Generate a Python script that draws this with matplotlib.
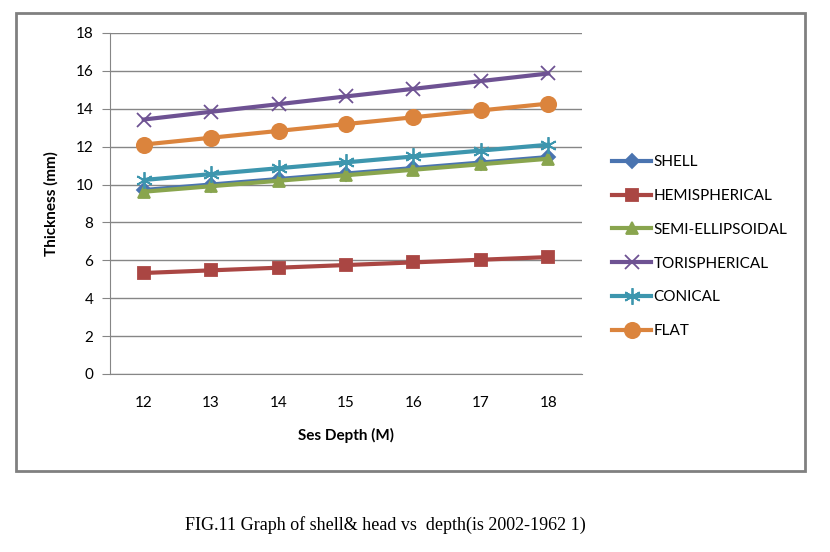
import numpy as np
import matplotlib.pyplot as plt
from matplotlib.patches import Rectangle

plt.rcParams.update({
    "font.family": ["Lato", "DejaVu Sans"],
    "font.size": 10,
})

depth = ["12", "13", "14", "15", "16", "17", "18"]

shell = [9.71, 10.00, 10.29, 10.58, 10.87, 11.16, 11.45]
hemispherical = [5.33, 5.47, 5.61, 5.75, 5.89, 6.03, 6.17]
semi_ellipsoidal = [9.62, 9.91, 10.20, 10.49, 10.78, 11.07, 11.36]
torispherical = [13.43, 13.84, 14.24, 14.65, 15.05, 15.46, 15.86]
conical = [10.24, 10.55, 10.86, 11.17, 11.48, 11.79, 12.10]
flat = [12.11, 12.47, 12.83, 13.19, 13.55, 13.91, 14.27]

series = [
    ("SHELL", shell, "#4A74B0", "D", 7),
    ("HEMISPHERICAL", hemispherical, "#AA4643", "s", 9),
    ("SEMI-ELLIPSOIDAL", semi_ellipsoidal, "#89A54E", "^", 9),
    ("TORISPHERICAL", torispherical, "#6E5293", "x", 10),
    ("CONICAL", conical, "#3D96AE", (6, 2, 0), 12),
    ("FLAT", flat, "#DB843D", "o", 11),
]

fig = plt.figure(figsize=(8.3, 5.52), dpi=100)
ax = fig.add_axes([0.1325, 0.3225, 0.5687, 0.6178])

x = np.arange(len(depth))
for name, vals, col, mk, ms in series:
    ax.plot(x, vals, color=col, lw=3, marker=mk, markersize=ms,
            markeredgecolor=col, markerfacecolor=col, markeredgewidth=1.3,
            label=name)

ax.set_xlim(-0.5, len(depth) - 0.5)
ax.set_ylim(0, 18)
ax.set_yticks(range(0, 19, 2))
ax.set_xticks(x)
ax.set_xticklabels(depth)
ax.yaxis.grid(True, color="#868686", lw=1)
ax.set_axisbelow(True)
for s in ["top", "right"]:
    ax.spines[s].set_visible(False)
ax.spines["left"].set_color("#868686")
ax.spines["bottom"].set_color("#868686")
ax.tick_params(axis="y", length=6, color="#868686", pad=6, labelsize=11)
ax.tick_params(axis="x", length=0, pad=16, labelsize=11)
ax.set_xlabel("Ses Depth (M)", fontweight="bold", fontsize=11, labelpad=13)
ax.set_ylabel("Thickness (mm)", fontweight="bold", fontsize=11, labelpad=12)

ax.legend(loc="upper left", bbox_to_anchor=(1.05, 0.66), frameon=False,
          fontsize=11, labelspacing=1.3, handlelength=2.6,
          handletextpad=0.15, borderaxespad=0)

# chart frame
fig.patches.append(Rectangle((16 / 830, 1 - 471 / 552), 789 / 830, 458 / 552,
                             transform=fig.transFigure, fill=False,
                             edgecolor="#808080", lw=2))

fig.text(0.464, 1 - 525 / 552, "FIG.11 Graph of shell& head vs  depth(is 2002-1962 1)",
         ha="center", va="center", family=["Liberation Serif", "DejaVu Serif"],
         fontsize=13)

fig.savefig("out.png", dpi=100)
